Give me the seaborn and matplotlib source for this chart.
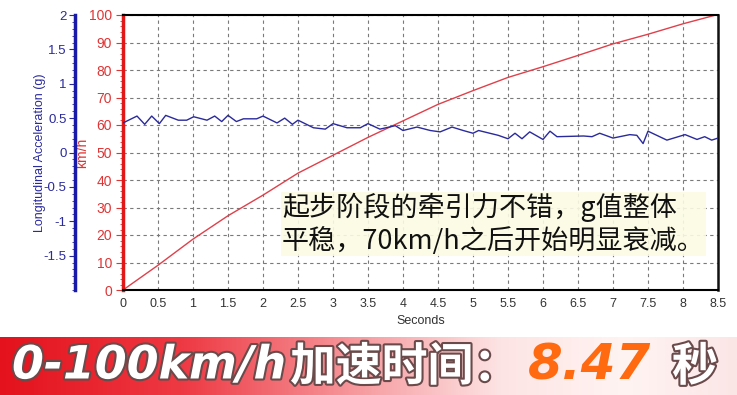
import numpy as np
import pandas as pd
import matplotlib
matplotlib.use('Agg')
import matplotlib.pyplot as plt
import matplotlib.patheffects as pe
from matplotlib.colors import LinearSegmentedColormap
from matplotlib.ticker import MultipleLocator
import seaborn as sns

# speed curve (km/h)
speed_t = [0, 0.5, 1, 1.5, 2, 2.5, 3, 3.5, 4, 4.5, 5, 5.5, 6, 6.5, 7, 7.5, 8, 8.47]
speed_v = [0, 9, 18.5, 27, 34.5, 42.5, 49, 55.5, 61.5, 67.5, 72.5, 77.3, 81.2, 85.3, 89.5, 93, 96.8, 100]

# longitudinal acceleration (g)
acc_t = [0, 0.2, 0.31, 0.41, 0.52, 0.61, 0.79, 0.91, 1.01, 1.2, 1.31, 1.41, 1.5, 1.62, 1.72,
         1.91, 2.0, 2.2, 2.31, 2.42, 2.5, 2.72, 2.89, 3.0, 3.2, 3.39, 3.5, 3.67, 3.89, 4.0,
         4.2, 4.39, 4.53, 4.7, 4.86, 5.0, 5.08, 5.36, 5.5, 5.6, 5.7, 5.81, 6.0, 6.1, 6.2,
         6.58, 6.7, 6.81, 7.0, 7.24, 7.34, 7.43, 7.5, 7.77, 8.03, 8.2, 8.31, 8.41, 8.5]
acc_g = [0.43, 0.53, 0.41, 0.53, 0.42, 0.54, 0.47, 0.47, 0.52, 0.47, 0.53, 0.45, 0.54, 0.45, 0.49,
         0.49, 0.53, 0.43, 0.5, 0.41, 0.47, 0.36, 0.34, 0.42, 0.36, 0.36, 0.42, 0.34, 0.39, 0.32,
         0.37, 0.32, 0.3, 0.37, 0.32, 0.28, 0.32, 0.25, 0.2, 0.28, 0.2, 0.3, 0.19, 0.31, 0.23,
         0.24, 0.23, 0.28, 0.21, 0.26, 0.25, 0.13, 0.31, 0.18, 0.26, 0.19, 0.23, 0.18, 0.21]

x_ticks = np.arange(0, 8.51, 0.5)
kmh_ticks = list(range(0, 101, 10))
g_ticks = [-1.5, -1, -0.5, 0, 0.5, 1, 1.5, 2]
g_labels = ['-1.5', '-1', '-0.5', '0', '0.5', '1', '1.5', '2']

note = '起步阶段的牵引力不错，g值整体\n平稳，70km/h之后开始明显衰减。'
banner_main = '0-100km/h'
banner_cn = '加速时间：'
banner_time = '8.47'
banner_unit = '秒'

RED = '#e03434'
BLUE = '#2a2a9c'

sns.set_style('white')
plt.rcParams['font.family'] = ['Liberation Sans', 'Noto Sans CJK SC']

fig = plt.figure(figsize=(7.37, 3.95), dpi=100)
ax = fig.add_axes([123 / 737, 1 - 290 / 395, 595 / 737, 275 / 395])

speed = pd.DataFrame({'t': speed_t, 'v': speed_v})
acc = pd.DataFrame({'t': acc_t, 'g': acc_g})

sns.lineplot(data=speed, x='t', y='v', ax=ax, color='#e0404a', linewidth=1.0, estimator=None)
ax.set_xlim(0, 8.5)
ax.set_ylim(0, 100)
ax.set_xticks(x_ticks)
ax.set_xticklabels([('%g' % t) for t in x_ticks])
ax.set_yticks(kmh_ticks)
ax.xaxis.set_minor_locator(MultipleLocator(0.1))
ax.yaxis.set_minor_locator(MultipleLocator(2))
ax.grid(True, which='major', color='#7a7a7a', linestyle=(0, (3, 3)), linewidth=0.8)
ax.tick_params(axis='x', which='major', labelsize=9, labelcolor='#333333', length=4,
               direction='in', color='black', pad=6)
ax.tick_params(axis='x', which='minor', length=2, direction='in', color='black')
ax.tick_params(axis='y', which='major', labelsize=10, labelcolor=RED, length=5,
               direction='out', color=RED, pad=3)
ax.tick_params(axis='y', which='minor', length=2, direction='out', color=RED)
ax.set_xlabel('Seconds', fontsize=9, color='#333333', labelpad=3)
ax.set_ylabel('km/h', fontsize=10, color=RED)
ax.yaxis.set_label_coords(-0.057, 0.5)
for side in ['top', 'bottom']:
    ax.spines[side].set_color('black')
    ax.spines[side].set_linewidth(1.5)
ax.spines['right'].set_color('#111111')
ax.spines['right'].set_linewidth(1.8)
ax.spines['left'].set_color('#e01818')
ax.spines['left'].set_linewidth(2.5)

ax2 = ax.twinx()
sns.lineplot(data=acc, x='t', y='g', ax=ax2, color=BLUE, linewidth=1.0, estimator=None)
ax2.set_ylim(-2, 2)
ax2.set_yticks(g_ticks)
ax2.set_yticklabels(g_labels)
ax2.yaxis.set_minor_locator(MultipleLocator(0.1))
ax2.yaxis.tick_left()
ax2.yaxis.set_label_position('left')
ax2.spines['left'].set_position(('outward', 34.5))
ax2.spines['left'].set_visible(True)
ax2.spines['left'].set_color('#1a1aa8')
ax2.spines['left'].set_linewidth(2.5)
ax2.spines['right'].set_visible(False)
ax2.spines['top'].set_visible(False)
ax2.spines['bottom'].set_visible(False)
ax2.tick_params(axis='y', which='major', labelsize=9.5, labelcolor=BLUE, length=4,
                direction='out', color=BLUE, pad=2)
ax2.tick_params(axis='y', which='minor', length=2, direction='out', color=BLUE)
ax2.set_ylabel('Longitudinal Acceleration (g)', fontsize=9, color=BLUE)
ax2.yaxis.set_label_coords(-0.13, 0.5)
ax2.set_xlabel('')

# annotation in the plot
fig.text(282 / 737, 1 - 224 / 395, note, fontsize=19.5, color='#111111',
         family=['Noto Sans CJK SC', 'DejaVu Sans'], va='center', ha='left', linespacing=1.2,
         bbox=dict(facecolor='#fbfbe4', edgecolor='none', alpha=0.9, pad=1))

# red banner at the bottom
bax = fig.add_axes([0, 0, 1, 58 / 395])
cmap = LinearSegmentedColormap.from_list('banner', [
    (0.0, '#e4121c'), (0.25, '#ee3a44'), (0.5, '#f7a0a4'),
    (0.68, '#fde4e4'), (0.85, '#fff4f2'), (1.0, '#fbe6e6')])
bax.imshow(np.linspace(0, 1, 256).reshape(1, -1), aspect='auto', cmap=cmap,
           extent=[0, 1, 0, 1])
bax.set_xlim(0, 1)
bax.set_ylim(0, 1)
bax.axis('off')

shadow = [pe.withStroke(linewidth=3, foreground='#6a4a4a')]
bax.text(12 / 737, 0.5, banner_main, fontsize=33, color='white', fontweight='bold',
         style='italic', va='center', ha='left', path_effects=shadow,
         family=['DejaVu Sans'])
bax.text(290 / 737, 0.47, banner_cn, fontsize=33, color='white', fontweight='heavy',
         va='center', ha='left', path_effects=shadow,
         family=['Noto Sans CJK SC', 'DejaVu Sans'])
bax.text(528 / 737, 0.5, banner_time, fontsize=36, color='#ff6a10', fontweight='bold',
         style='italic', va='center', ha='left', family=['DejaVu Sans'])
bax.text(672 / 737, 0.47, banner_unit, fontsize=33, color='white', fontweight='heavy',
         va='center', ha='left', path_effects=shadow,
         family=['Noto Sans CJK SC', 'DejaVu Sans'])

fig.savefig('out.png', dpi=100)
